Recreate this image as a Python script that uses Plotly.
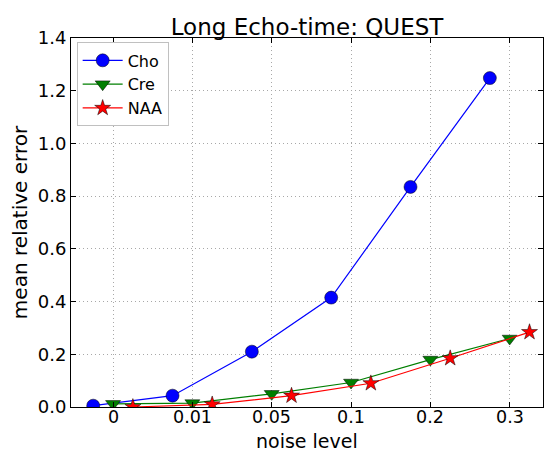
import plotly.graph_objects as go

noise_labels = ["0", "0.01", "0.05", "0.1", "0.2", "0.3"]
cho = [0.005, 0.043, 0.21, 0.415, 0.835, 1.248]
cre = [0.012, 0.015, 0.05, 0.093, 0.18, 0.26]
naa = [0.0, 0.01, 0.043, 0.09, 0.185, 0.284]

offsets = {"Cho": -0.25, "Cre": 0.0, "NAA": 0.25}

fig = go.Figure()
series = [
    ("Cho", cho, "#0000ff", "circle", 13),
    ("Cre", cre, "#007f00", "triangle-down", 13),
    ("NAA", naa, "#ff0000", "star", 12),
]
for name, vals, color, sym, size in series:
    xs = [i + offsets[name] for i in range(len(vals))]
    fig.add_trace(go.Scatter(
        x=xs, y=vals, name=name, mode="lines+markers",
        line=dict(color=color, width=1.2),
        marker=dict(symbol=sym, size=size, color=color,
                    line=dict(color="black", width=0.5)),
    ))

axis_common = dict(
    showline=True, linecolor="black", linewidth=1, mirror="ticks",
    ticks="inside", ticklen=5, tickcolor="black", automargin=False,
    showgrid=True, gridcolor="#a8a8a8", griddash="1px,3px", gridwidth=1,
    zeroline=False, tickfont=dict(size=18, color="black"),
)

# x tick labels drawn at the axis' own tick positions (data coordinates)
tick_annots = [dict(text=lab, xref="x", yref="paper", x=i, y=0,
                    xanchor="center", yanchor="top", yshift=1,
                    showarrow=False, borderpad=0,
                    font=dict(size=17.5, color="black"))
               for i, lab in enumerate(noise_labels)]

fig.update_layout(
    width=545, height=452,
    margin=dict(l=71, r=2, t=38, b=45),
    paper_bgcolor="white", plot_bgcolor="white",
    font=dict(family="DejaVu Sans", color="black"),
    title=dict(text="Long Echo-time: QUEST", x=0.5, xanchor="center",
               xref="paper", y=1, yref="paper", yanchor="bottom",
               pad=dict(b=3), font=dict(size=23, color="black")),
    xaxis=dict(axis_common, range=[-0.53, 5.42],
               tickvals=list(range(len(noise_labels))), showticklabels=False),
    yaxis=dict(axis_common, range=[0, 1.4], dtick=0.2, tickformat=".1f",
               title=dict(text="mean relative error", font=dict(size=20), standoff=4)),
    legend=dict(x=0.012, y=0.988, xanchor="left", yanchor="top",
                bgcolor="white", bordercolor="#c0c0c0", borderwidth=1,
                font=dict(size=16), tracegroupgap=0, itemwidth=40),
    showlegend=True,
    annotations=tick_annots + [dict(text="noise level", xref="paper", yref="paper",
                      x=0.5, y=0, xanchor="center", yanchor="top",
                      yshift=-21.5, showarrow=False, borderpad=0,
                      font=dict(size=19, color="black"))],
)

fig.write_html("out.html")
